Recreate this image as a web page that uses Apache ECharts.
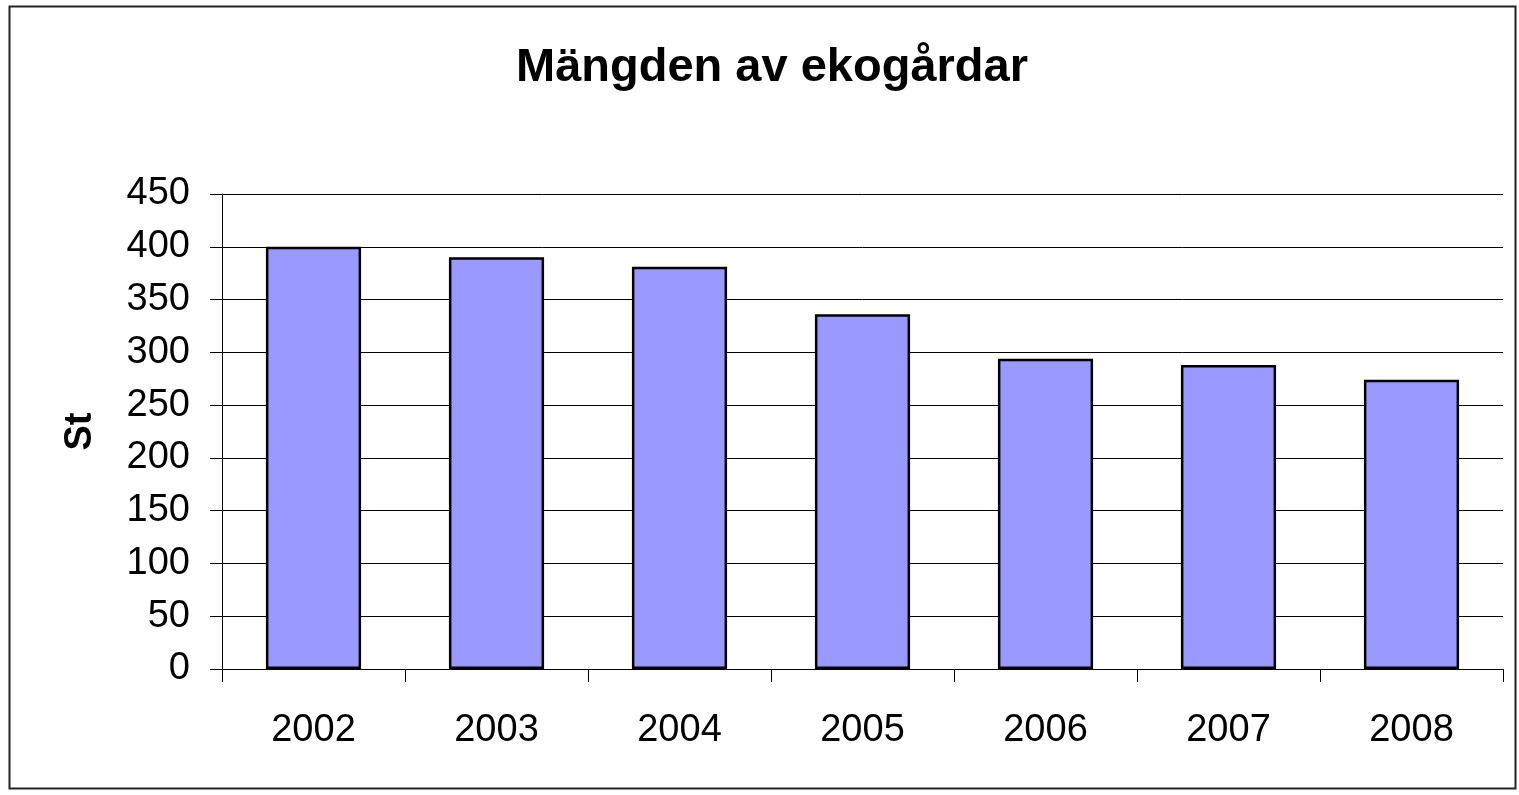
<!DOCTYPE html>
<html lang="sv">
<head>
    <meta charset="UTF-8">
    <title>Mängden av ekogårdar</title>
    <script src="https://cdn.jsdelivr.net/npm/echarts@6/dist/echarts.min.js"></script>
    <style>
        html, body {
            margin: 0;
            padding: 0;
            background: #fff;
        }
        #main {
            width: 1519px;
            height: 795px;
        }
    </style>
</head>
<body>
<div id="main"></div>
<script type="text/javascript">
    // data
    var years = ['2002', '2003', '2004', '2005', '2006', '2007', '2008'];
    var farms = [400, 390, 381, 336, 294, 288, 274];

    var chart = echarts.init(document.getElementById('main'));

    var font = 'Liberation Sans, Arial, sans-serif';

    var option = {
        backgroundColor: '#fff',
        animation: false,
        title: {
            text: 'Mängden av ekogårdar',
            left: 767,
            top: 40,
            textAlign: 'center',
            textStyle: {
                fontFamily: font,
                fontSize: 47,
                fontWeight: 'bold',
                color: '#000'
            }
        },
        graphic: [{
            type: 'rect',
            shape: { x: 9.5, y: 6.5, width: 1506, height: 782 },
            style: { fill: 'none', stroke: '#222', lineWidth: 2 },
            silent: true
        }],
        grid: {
            left: 222,
            right: 16,
            top: 194,
            bottom: 126
        },
        xAxis: {
            type: 'category',
            data: years,
            axisLine: { lineStyle: { color: '#000', width: 1 } },
            axisTick: { show: true, length: 13, alignWithLabel: false, lineStyle: { color: '#000' } },
            axisLabel: {
                margin: 43,
                fontFamily: font,
                fontSize: 38,
                color: '#000'
            }
        },
        yAxis: {
            type: 'value',
            min: 0,
            max: 450,
            interval: 50,
            name: 'St',
            nameLocation: 'middle',
            nameGap: 122,
            nameRotate: 90,
            nameTextStyle: {
                fontFamily: font,
                fontSize: 38,
                fontWeight: 'bold',
                color: '#000'
            },
            axisLine: { show: true, lineStyle: { color: '#000', width: 1 } },
            axisTick: { show: true, length: 12, lineStyle: { color: '#000' } },
            axisLabel: {
                margin: 32,
                fontFamily: font,
                fontSize: 38,
                color: '#000'
            },
            splitLine: { show: true, lineStyle: { color: '#000', width: 1 } }
        },
        series: [{
            type: 'bar',
            data: farms,
            barWidth: '52%',
            itemStyle: {
                color: '#9999ff',
                borderColor: '#000',
                borderWidth: 2.5
            }
        }]
    };

    chart.setOption(option);
</script>
</body>
</html>
